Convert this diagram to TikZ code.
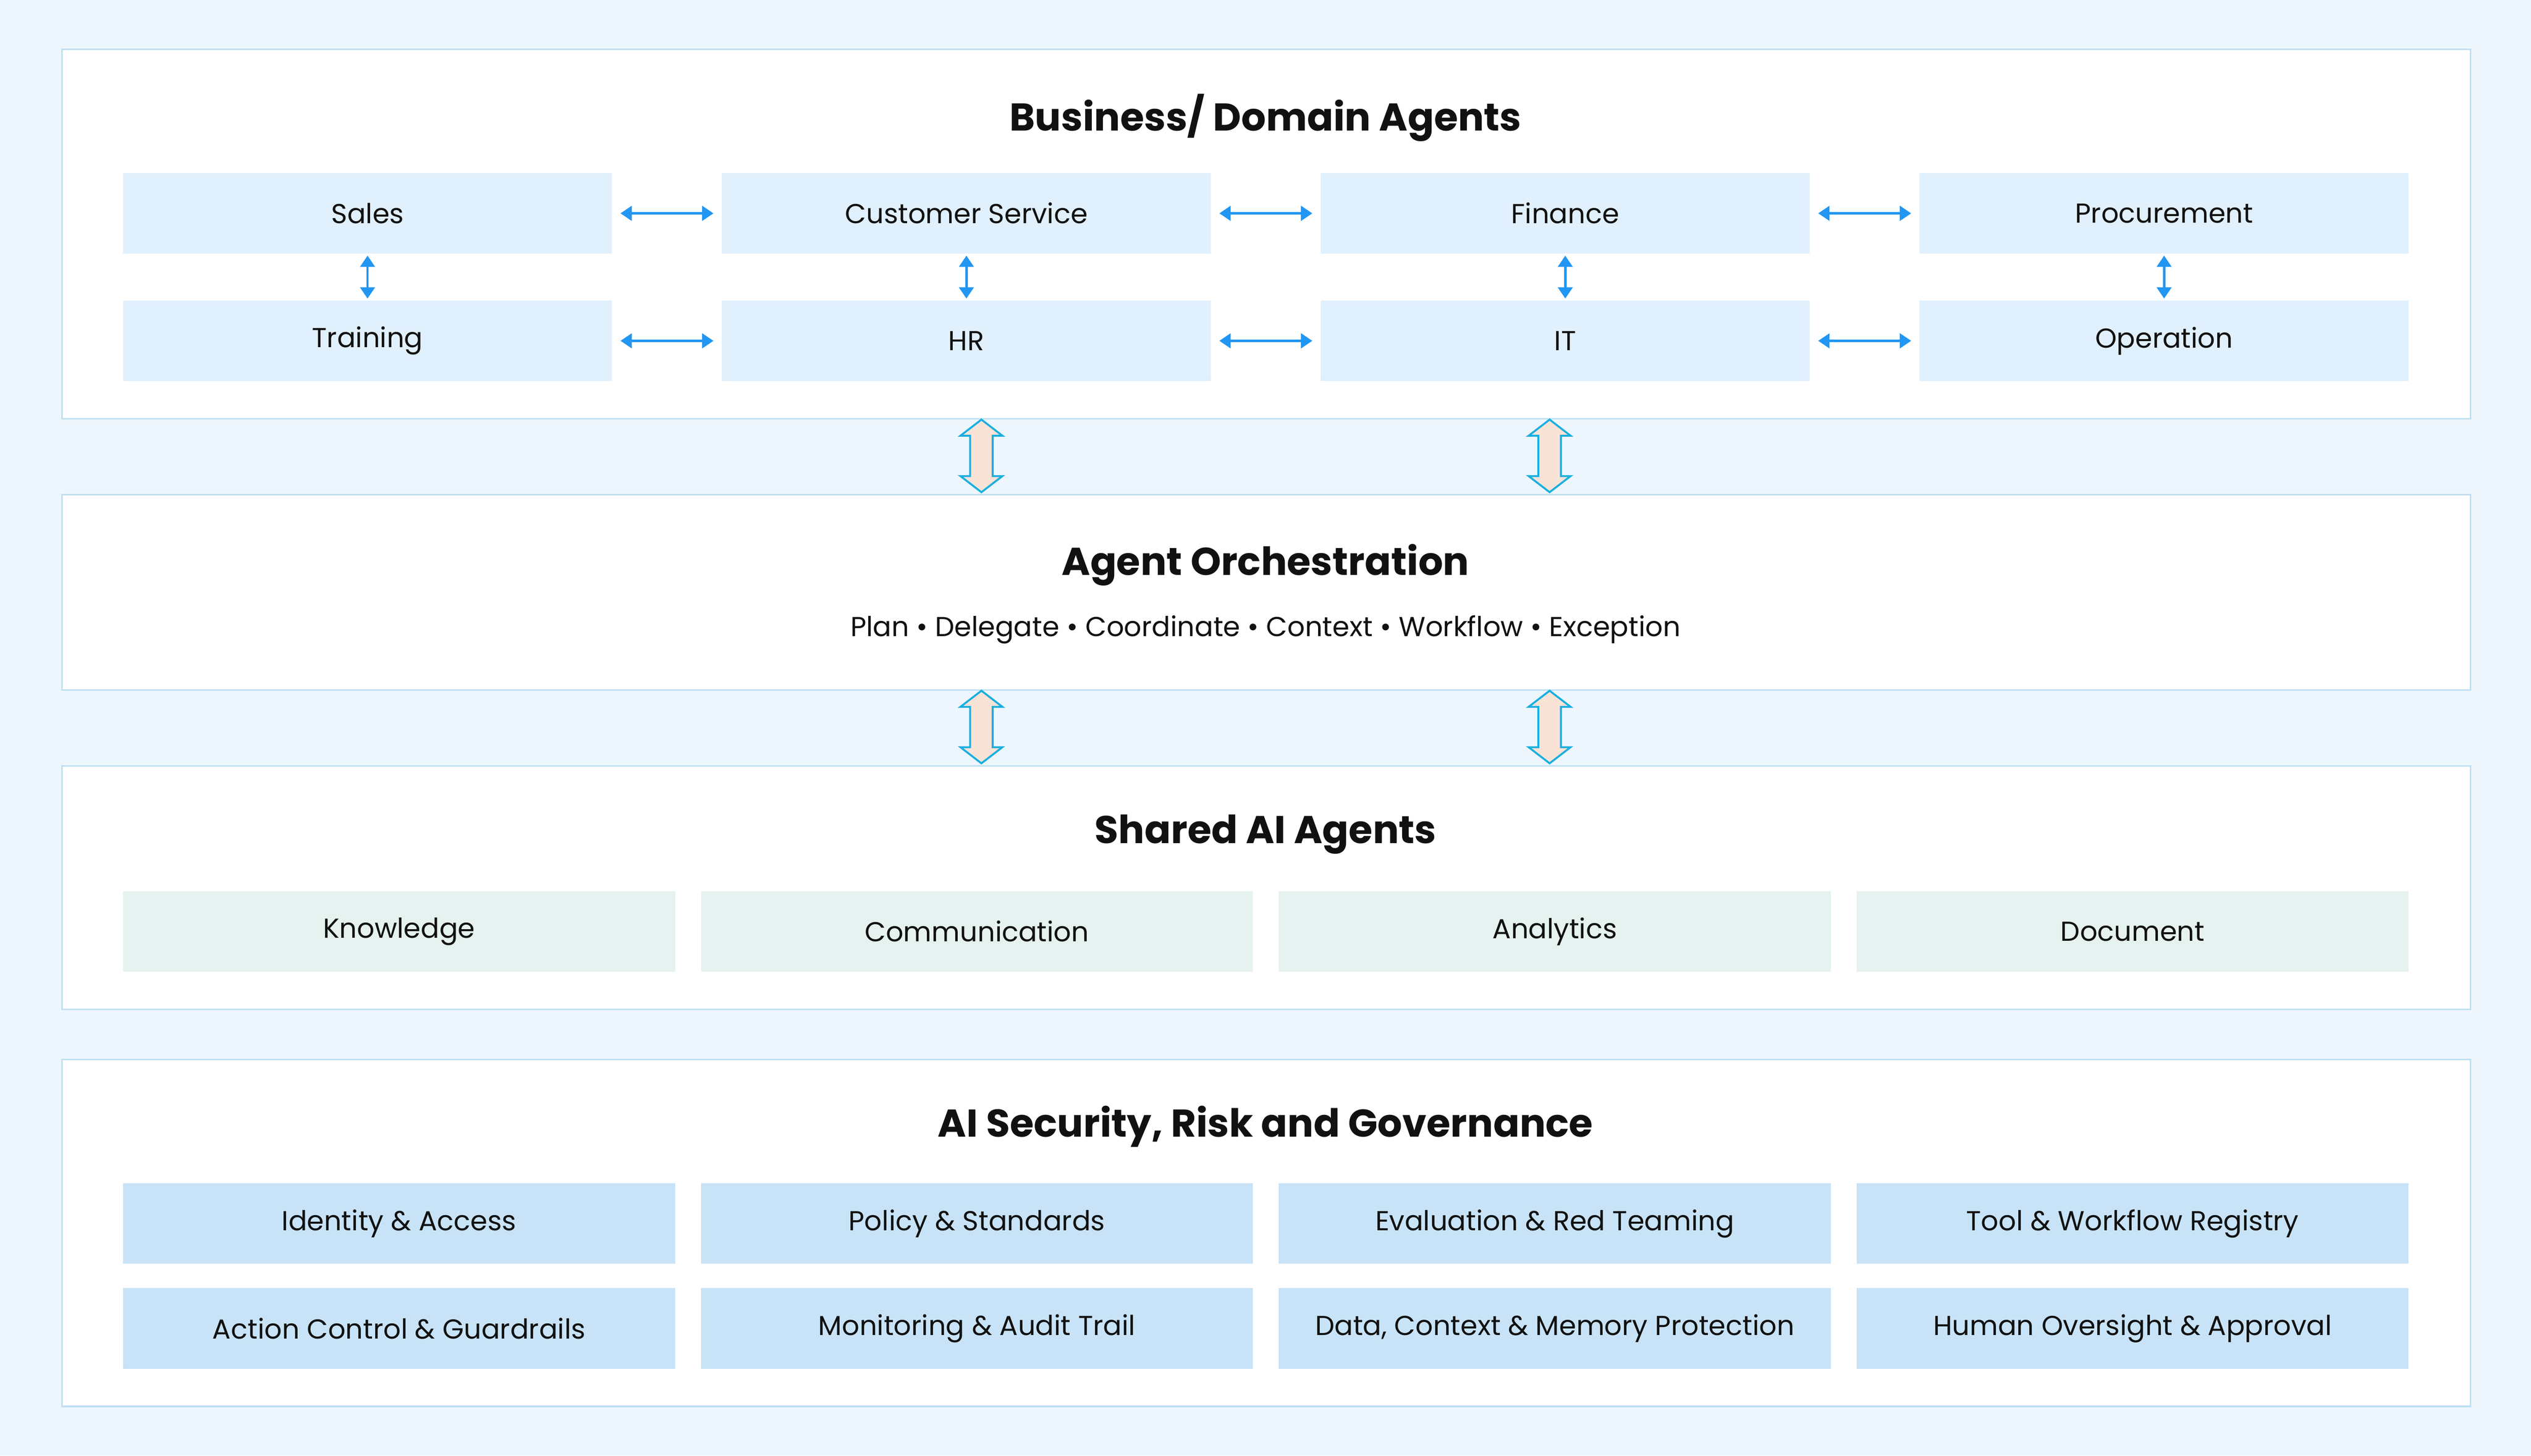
\documentclass[tikz,border=0pt]{standalone}
\usepackage{fontspec}
\setmainfont{Poppins}
\usetikzlibrary{arrows.meta}
\definecolor{bgc}{HTML}{EEF6FD}
\definecolor{pbord}{HTML}{BFE0F2}
\definecolor{boxa}{HTML}{E0F0FC}
\definecolor{boxb}{HTML}{E5F2EF}
\definecolor{boxc}{HTML}{C8E3F7}
\definecolor{arr}{HTML}{2196F3}
\definecolor{bigf}{HTML}{F8E3D6}
\definecolor{bigs}{HTML}{1AAFE0}
\definecolor{txt}{HTML}{111111}
\newcommand\dblarrow[3]{%
\draw[bigs,fill=bigf,line width=1.2pt,line join=miter]
 (#1,#2) -- (#1+13,#2+10) -- (#1+7,#2+10) -- (#1+7,#3-10) -- (#1+13,#3-10) -- (#1,#3)
 -- (#1-13,#3-10) -- (#1-7,#3-10) -- (#1-7,#2+10) -- (#1-13,#2+10) -- cycle;}
\begin{document}
\begin{tikzpicture}[x=1pt,y=-1pt,
 panel/.style={draw=pbord,fill=white,line width=1pt,anchor=north west,minimum width=1492pt,inner sep=0pt},
 box/.style={anchor=north west,minimum height=50pt,inner sep=0pt,text=txt,font=\fontsize{17}{20}\selectfont},
 ba/.style={box,fill=boxa,minimum width=303pt},
 bb/.style={box,fill=boxb,minimum width=342pt},
 bc/.style={box,fill=boxc,minimum width=342pt},
 ttl/.style={text=txt,font=\fontsize{24}{28}\selectfont\bfseries},
 sa/.style={arr,line width=1.5pt,{Triangle[length=7pt,width=9pt]}-{Triangle[length=7pt,width=9pt]}},
 sh/.style={sa,shorten >=5pt,shorten <=5pt},
 sv/.style={sa,shorten >=1pt,shorten <=1pt}]
\fill[bgc] (0,0) rectangle (1568,902);
\useasboundingbox (0,0) rectangle (1568,902);
% panels
\node[panel,minimum height=229pt] (P1) at (38,30) {};
\node[panel,minimum height=121pt] (P2) at (38,306) {};
\node[panel,minimum height=151pt] (P3) at (38,474) {};
\node[panel,minimum height=215pt] (P4) at (38,656) {};
% titles
\node[ttl] (T1) at (784,73) {Business/ Domain Agents};
\node[ttl] (T2) at (784,350) {Agent Orchestration};
\node[text=txt,font=\fontsize{17}{20}\selectfont] (S2) at (784,390) {Plan • Delegate • Coordinate • Context • Workflow • Exception};
\node[ttl] (T3) at (784,517) {Shared AI Agents};
\node[ttl] (T4) at (784,698) {AI Security, Risk and Governance};
% business boxes
\node[ba] (a1) at (76,107) {Sales};
\node[ba] (a2) at (447,107) {Customer Service};
\node[ba] (a3) at (818,107) {Finance};
\node[ba] (a4) at (1189,107) {Procurement};
\node[ba] (b1) at (76,186) {Training};
\node[ba] (b2) at (447,186) {HR};
\node[ba] (b3) at (818,186) {IT};
\node[ba] (b4) at (1189,186) {Operation};
\foreach \i/\j in {1/2,2/3,3/4}{
 \draw[sh] (a\i.east) -- (a\j.west);
 \draw[sh] (b\i.east) -- (b\j.west);}
\foreach \i in {1,...,4}{\draw[sv] (a\i.south) -- (b\i.north);}
% shared
\node[bb] (c1) at (76,552) {Knowledge};
\node[bb] (c2) at (434,552) {Communication};
\node[bb] (c3) at (792,552) {Analytics};
\node[bb] (c4) at (1150,552) {Document};
% governance
\node[bc] (d1) at (76,733) {Identity \& Access};
\node[bc] (d2) at (434,733) {Policy \& Standards};
\node[bc] (d3) at (792,733) {Evaluation \& Red Teaming};
\node[bc] (d4) at (1150,733) {Tool \& Workflow Registry};
\node[bc] (e1) at (76,798) {Action Control \& Guardrails};
\node[bc] (e2) at (434,798) {Monitoring \& Audit Trail};
\node[bc] (e3) at (792,798) {Data, Context \& Memory Protection};
\node[bc] (e4) at (1150,798) {Human Oversight \& Approval};
% big arrows
\dblarrow{608}{260}{305}
\dblarrow{960}{260}{305}
\dblarrow{608}{428}{473}
\dblarrow{960}{428}{473}
\end{tikzpicture}
\end{document}
